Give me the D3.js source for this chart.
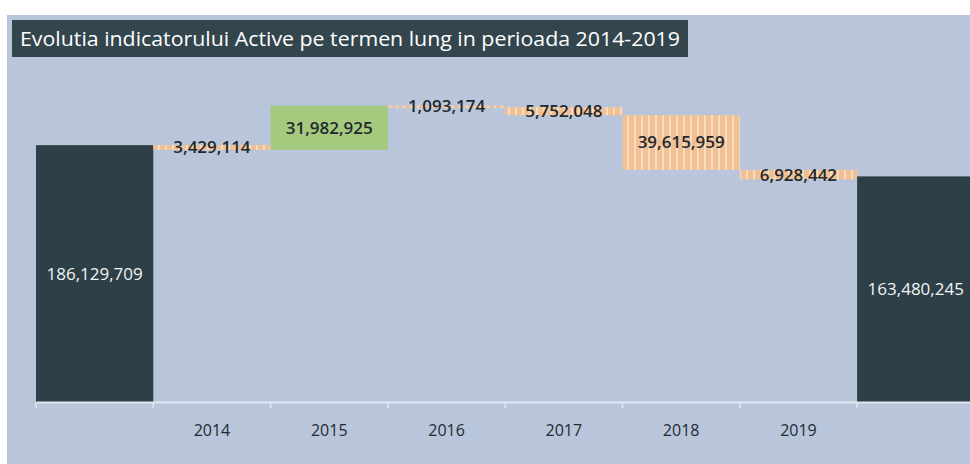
<!DOCTYPE html>
<html>
<head>
<meta charset="utf-8">
<script src="https://cdn.jsdelivr.net/npm/d3@7"></script>
<style>
  html, body { margin: 0; padding: 0; background: #fff; }
  svg { display: block; font-family: "Open Sans", sans-serif; }
</style>
</head>
<body>
<div id="main"></div>
<script>
const categories = ["start", "2014", "2015", "2016", "2017", "2018", "2019", "end"];
const tickLabels = ["", "2014", "2015", "2016", "2017", "2018", "2019", ""];
const startValue = 186129709;
const changes = [-3429114, 31982925, -1093174, -5752048, -39615959, -6928442];
const endValue = 163480245;

const width = 970;
const height = 464;

// build the waterfall steps from the arrays
let running = startValue;
const steps = [{ key: "start", y0: 0, y1: startValue, value: startValue, kind: "total" }];
changes.forEach((c, i) => {
  const from = running;
  running += c;
  steps.push({ key: categories[i + 1], y0: from, y1: running, value: Math.abs(c), kind: c >= 0 ? "up" : "down" });
});
steps.push({ key: "end", y0: 0, y1: endValue, value: endValue, kind: "total" });

const svg = d3.select("#main")
  .append("svg")
  .attr("width", width)
  .attr("height", height);

const defs = svg.append("defs");
const pat = defs.append("pattern")
  .attr("id", "stripes")
  .attr("patternUnits", "userSpaceOnUse")
  .attr("width", 7)
  .attr("height", 10);
pat.append("rect").attr("width", 7).attr("height", 10).attr("fill", "#f1c195");
pat.append("rect").attr("x", 4).attr("width", 2).attr("height", 10).attr("fill", "#f9dcbd");

// panel
svg.append("rect")
  .attr("x", 7)
  .attr("y", 15)
  .attr("width", width - 7)
  .attr("height", height - 15)
  .attr("fill", "#b8c5db");

// title
svg.append("rect")
  .attr("x", 12)
  .attr("y", 20)
  .attr("width", 676)
  .attr("height", 37)
  .attr("fill", "#33464e");

svg.append("text")
  .attr("x", 20)
  .attr("y", 46)
  .attr("fill", "#fff")
  .attr("font-size", 20)
  .attr("textLength", 660)
  .attr("lengthAdjust", "spacingAndGlyphs")
  .text("Evolutia indicatorului Active pe termen lung in perioada 2014-2019");

const x = d3.scaleBand()
  .domain(categories)
  .range([36, 36 + 8 * 117.3])
  .padding(0);

const y = d3.scaleLinear()
  .domain([0, 250000000])
  .range([402, 57]);

const fmt = d3.format(",");

const colorFor = d => d.kind === "total" ? "#2d4047" : d.kind === "up" ? "#a5ca7e" : "url(#stripes)";

svg.append("g")
  .selectAll("rect")
  .data(steps)
  .enter()
  .append("rect")
  .attr("x", d => x(d.key))
  .attr("width", x.bandwidth())
  .attr("y", d => y(Math.max(d.y0, d.y1)))
  .attr("height", d => Math.max(2, Math.abs(y(d.y0) - y(d.y1))))
  .attr("fill", colorFor);

// axis
const xAxis = d3.axisBottom(x)
  .tickSize(0)
  .tickFormat((d, i) => tickLabels[i]);

const axisG = svg.append("g")
  .attr("transform", "translate(0,402)")
  .call(xAxis);

axisG.select(".domain").attr("stroke", "#e2e8f1").attr("stroke-width", 2);
axisG.selectAll("text")
  .attr("dy", "1.95em")
  .attr("font-size", 16)
  .attr("font-family", "Open Sans, sans-serif")
  .attr("fill", "#222b30");

// boundary ticks
svg.append("g")
  .selectAll("line")
  .data(categories.concat(["_"]))
  .enter()
  .append("line")
  .attr("x1", (d, i) => x.range()[0] + i * x.step())
  .attr("x2", (d, i) => x.range()[0] + i * x.step())
  .attr("y1", 402)
  .attr("y2", 408)
  .attr("stroke", "#e2e8f1")
  .attr("stroke-width", 1.5);

// value labels
svg.append("g")
  .selectAll("text")
  .data(steps)
  .enter()
  .append("text")
  .attr("x", d => x(d.key) + x.bandwidth() / 2)
  .attr("y", d => (y(d.y0) + y(d.y1)) / 2)
  .attr("dy", "0.35em")
  .attr("text-anchor", "middle")
  .attr("font-size", 17)
  .attr("font-weight", d => d.kind === "total" ? 400 : 600)
  .attr("fill", d => d.kind === "total" ? "#f2f4f5" : "#1f2a30")
  .text(d => fmt(d.value));
</script>
</body>
</html>
